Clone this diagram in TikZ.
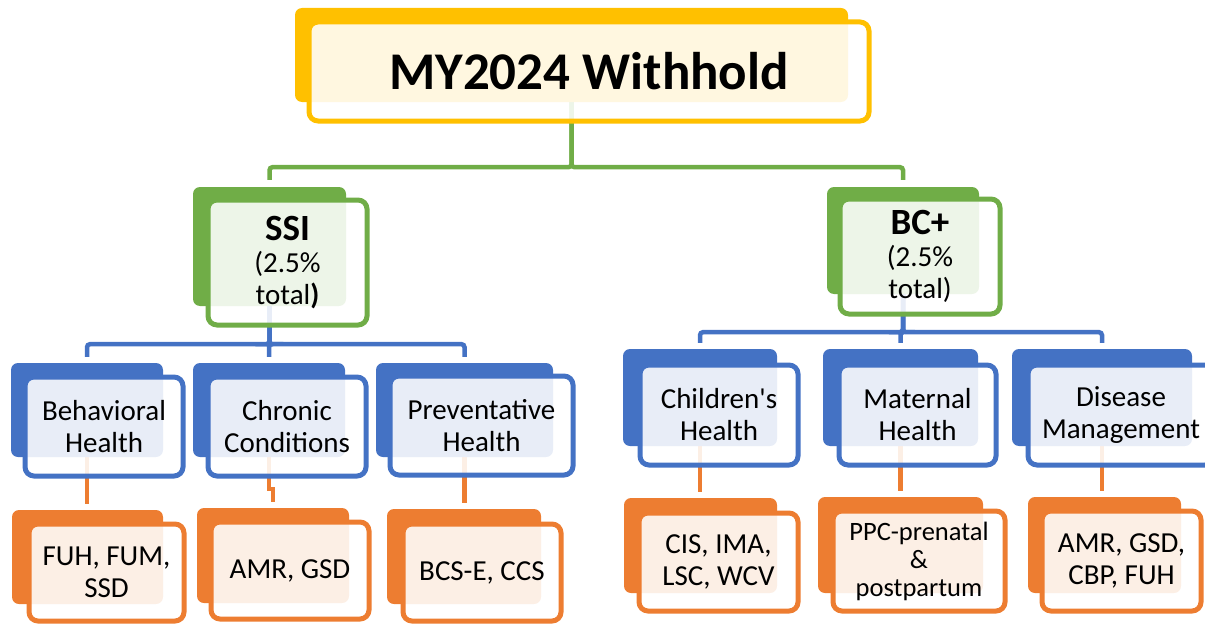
\documentclass[tikz,border=0pt]{standalone}
\usepackage{fontspec}
\setmainfont{Carlito}
\usetikzlibrary{backgrounds}
\definecolor{wYellow}{HTML}{FFC000}
\definecolor{wGreen}{HTML}{70AD47}
\definecolor{wBlue}{HTML}{4472C4}
\definecolor{wOrange}{HTML}{ED7D31}

\tikzset{
  backbox/.style={fill=#1, rounded corners=7pt, inner sep=0pt},
  frontbox/.style={draw=#1, line width=5pt, fill=white, fill opacity=0.88, text opacity=1,
    rounded corners=9pt, align=center, inner sep=0pt, font=\fontsize{29}{32}\selectfont},
  conn/.style={draw=#1, line width=4.5pt, rounded corners=3pt},
}

\begin{document}
\begin{tikzpicture}[x=1pt,y=-1pt]
	\useasboundingbox (0,0) rectangle (1205,626);
	% top
	\node[backbox=wYellow, minimum width=553pt, minimum height=94pt] (title) at (571.5,55) {};
	\node[frontbox=wYellow, minimum width=560pt, minimum height=99pt] (title-f) at (589,71.5)
		{\fontsize{53}{60}\selectfont\bfseries MY2024 Withhold};
	% programs
	\node[backbox=wGreen, minimum width=153pt, minimum height=119pt] (ssi) at (269.5,246.5) {};
	\node[frontbox=wGreen, minimum width=159pt, minimum height=125pt] (ssi-f) at (287.5,262.5)
		{{\fontsize{37}{32}\selectfont\bfseries SSI}\\(2.5\%\\total\textbf{)}};
	\node[backbox=wGreen, minimum width=152pt, minimum height=107pt] (bcp) at (903,240.5) {};
	\node[frontbox=wGreen, minimum width=160pt, minimum height=115pt] (bcp-f) at (920,256.5)
		{{\fontsize{37}{32}\selectfont\bfseries BC+}\\(2.5\%\\total)};
	% domains
	\node[backbox=wBlue, minimum width=152pt, minimum height=94pt] (bh) at (87,410) {};
	\node[frontbox=wBlue, minimum width=158pt, minimum height=99pt] (bh-f) at (104,426.5) {Behavioral\\Health};
	\node[backbox=wBlue, minimum width=152pt, minimum height=94pt] (cc) at (269,410) {};
	\node[frontbox=wBlue, minimum width=158pt, minimum height=99pt] (cc-f) at (287,426.5) {Chronic\\Conditions};
	\node[backbox=wBlue, minimum width=177pt, minimum height=94pt] (ph) at (464.5,410) {};
	\node[frontbox=wBlue, minimum width=183pt, minimum height=99pt] (ph-f) at (481.5,425.5) {Preventative\\Health};
	\node[backbox=wBlue, minimum width=154pt, minimum height=97pt] (ch) at (700,397.5) {};
	\node[frontbox=wBlue, minimum width=158pt, minimum height=100pt] (ch-f) at (719,415) {Children\textquotesingle s\\Health};
	\node[backbox=wBlue, minimum width=155pt, minimum height=97pt] (mh) at (900.5,397.5) {};
	\node[frontbox=wBlue, minimum width=157pt, minimum height=100pt] (mh-f) at (917.5,415) {Maternal\\Health};
	\node[backbox=wBlue, minimum width=180pt, minimum height=97pt] (dm) at (1102,397.5) {};
	\node[frontbox=wBlue, minimum width=186pt, minimum height=100pt] (dm-f) at (1121,415) {Disease\\Management};
	% measures
	\node[backbox=wOrange, minimum width=151pt, minimum height=94pt] (m-bh) at (87.5,557) {};
	\node[frontbox=wOrange, minimum width=155pt, minimum height=97pt] (m-bh-f) at (106.5,572.5) {FUH, FUM,\\SSD};
	\node[backbox=wOrange, minimum width=152pt, minimum height=95pt] (m-cc) at (273,555.5) {};
	\node[frontbox=wOrange, minimum width=158pt, minimum height=97pt] (m-cc-f) at (290,570.5) {AMR, GSD};
	\node[backbox=wOrange, minimum width=154pt, minimum height=95pt] (m-ph) at (464,556.5) {};
	\node[frontbox=wOrange, minimum width=158pt, minimum height=97pt] (m-ph-f) at (482,572.5) {BCS-E, CCS};
	\node[backbox=wOrange, minimum width=153pt, minimum height=95pt] (m-ch) at (700.5,545.5) {};
	\node[frontbox=wOrange, minimum width=159pt, minimum height=98pt] (m-ch-f) at (718.5,562) {CIS, IMA,\\LSC, WCV};
	\node[backbox=wOrange, minimum width=165pt, minimum height=96pt] (m-mh) at (900.5,545) {};
	\node[frontbox=wOrange, minimum width=172pt, minimum height=100pt, font=\fontsize{26.5}{28}\selectfont] (m-mh-f) at (919,561)
		{PPC-prenatal\\\&\\postpartum};
	\node[backbox=wOrange, minimum width=153pt, minimum height=96pt] (m-dm) at (1104.5,545) {};
	\node[frontbox=wOrange, minimum width=159pt, minimum height=100pt] (m-dm-f) at (1121.5,561) {AMR, GSD,\\CBP, FUH};

	\begin{scope}[on background layer]
	\foreach \p in {ssi,bcp}
		\draw[conn=wGreen] (title.south) -- ++(0,65) -| ([yshift=7pt]\p.north);
	\foreach \d in {bh,cc,ph}
		\draw[conn=wBlue] (ssi.south) -- ++(0,38) -| ([yshift=6pt]\d.north);
	\foreach \d in {ch,mh,dm}
		\draw[conn=wBlue] (bcp.south) -- ++(0,38) -| ([yshift=6pt]\d.north);
	\foreach \d in {bh,ph,ch,mh,dm}
		\draw[conn=wOrange] (\d.south) -- ([yshift=6pt]\d.south |- m-\d.north);
	\draw[conn=wOrange, sharp corners] (cc.south) -- ++(0,32) -| ([yshift=6pt]m-cc.north); % small jog
	\end{scope}
\end{tikzpicture}
\end{document}
